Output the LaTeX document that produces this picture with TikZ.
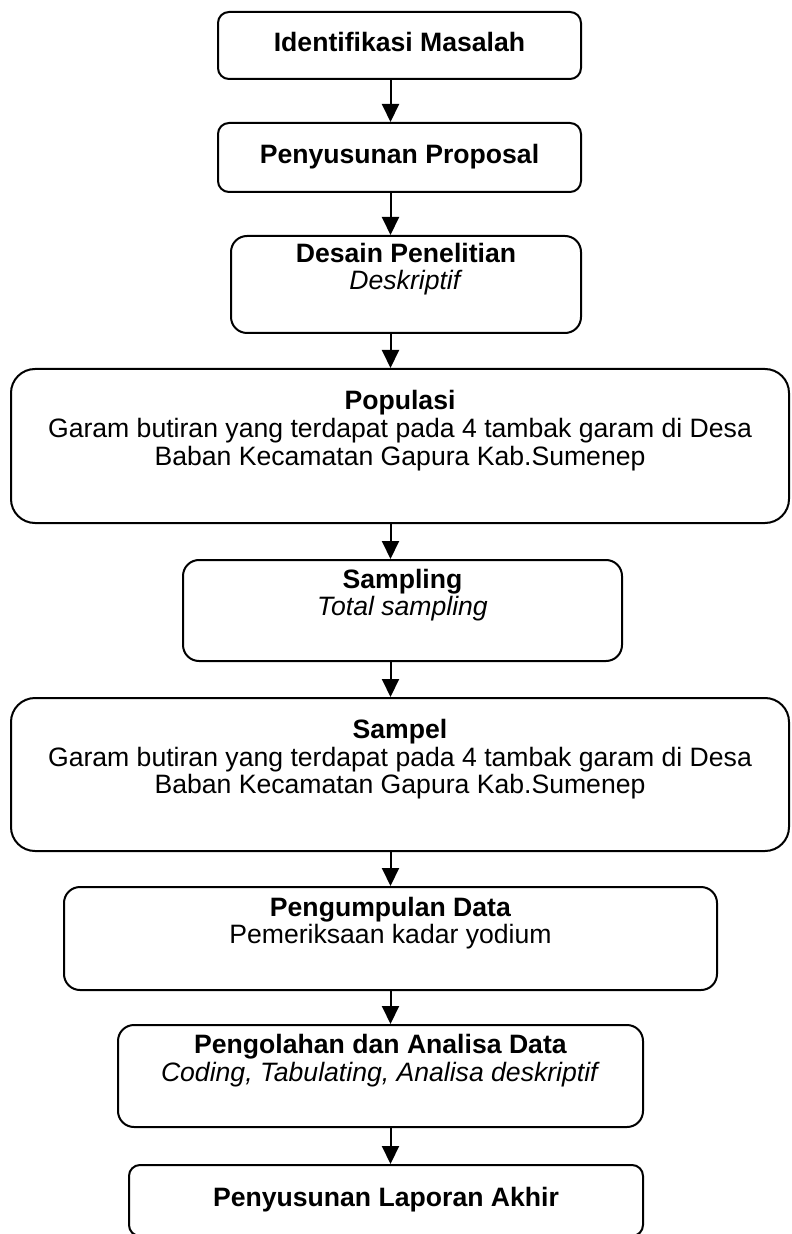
\documentclass[tikz,border=0pt]{standalone}
\usepackage{fontspec}
\setmainfont{Liberation Sans}
\usetikzlibrary{arrows.meta}
\begin{document}
\begin{tikzpicture}[
  x=0.5pt, y=-0.5pt,
  flow box/.style={draw, line width=1pt, align=center, inner sep=0pt,
    font=\fontsize{13.3}{13.9}\selectfont},
  small box/.style={flow box, rounded corners=5.5pt, text depth=4pt},
  mid box/.style={flow box, rounded corners=8pt},
  big box/.style={flow box, rounded corners=12pt},
  flow arrow/.style={line width=1pt, -{Triangle[length=9pt,width=8.5pt]}},
]
  \useasboundingbox (0,0) rectangle (791,1234);
  \coordinate (axis) at (390.5,0);

  \node[small box, minimum width=181.5pt, minimum height=33.5pt] (ident) at (399.5,45.5)
    {\textbf{Identifikasi Masalah}};
  \node[small box, minimum width=181.5pt, minimum height=34.5pt] (proposal) at (399.5,157.5)
    {\textbf{Penyusunan Proposal}};
  \node[mid box, minimum width=175pt, minimum height=48.5pt] (desain) at (406,284.5)
    {\textbf{Desain Penelitian}\\\textit{Deskriptif}\\\strut};
  \node[big box, minimum width=389pt, minimum height=77pt] (populasi) at (400,446)
    {\textbf{Populasi}\\Garam butiran yang terdapat pada 4 tambak garam di Desa\\Baban Kecamatan Gapura Kab.Sumenep\\\strut};
  \node[mid box, minimum width=219.5pt, minimum height=50.5pt] (sampling) at (402.5,610.5)
    {\textbf{Sampling}\\\textit{Total sampling}\\\strut};
  \node[big box, minimum width=389pt, minimum height=76.5pt] (sampel) at (400,774.5)
    {\textbf{Sampel}\\Garam butiran yang terdapat pada 4 tambak garam di Desa\\Baban Kecamatan Gapura Kab.Sumenep\\\strut};
  \node[mid box, minimum width=326.5pt, minimum height=51.5pt] (kumpul) at (390.5,938.5)
    {\textbf{Pengumpulan Data}\\Pemeriksaan kadar yodium\\\strut};
  \node[mid box, minimum width=262.5pt, minimum height=51pt] (olah) at (380.5,1076)
    {\textbf{Pengolahan dan Analisa Data}\\\textit{Coding, Tabulating, Analisa deskriptif}\\\strut};
  \node[small box, minimum width=257pt, minimum height=35.5pt] (laporan) at (386,1200.5)
    {\textbf{Penyusunan Laporan Akhir}};

  \draw[flow arrow] (ident.south -| axis) -- (proposal.north -| axis);
  \draw[flow arrow] (proposal.south -| axis) -- (desain.north -| axis);
  \draw[flow arrow] (desain.south -| axis) -- (populasi.north -| axis);
  \draw[flow arrow] (populasi.south -| axis) -- (sampling.north -| axis);
  \draw[flow arrow] (sampling.south -| axis) -- (sampel.north -| axis);
  \draw[flow arrow] (sampel.south -| axis) -- (kumpul.north -| axis);
  \draw[flow arrow] (kumpul.south -| axis) -- (olah.north -| axis);
  \draw[flow arrow] (olah.south -| axis) -- (laporan.north -| axis);
\end{tikzpicture}
\end{document}
